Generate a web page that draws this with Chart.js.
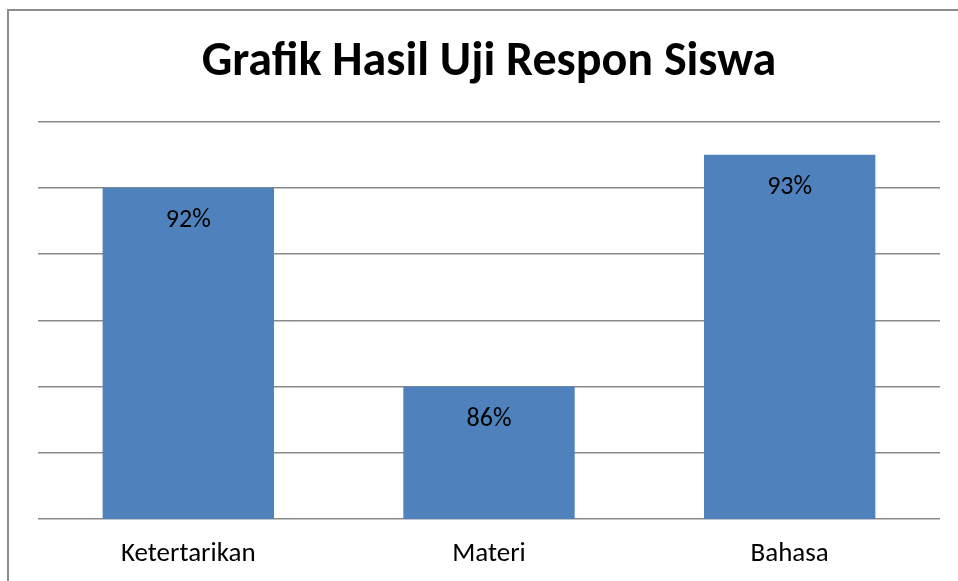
<!DOCTYPE html>
<html>
<head>
<meta charset="utf-8">
<script src="https://cdn.jsdelivr.net/npm/chart.js@4/dist/chart.umd.min.js"></script>
<style>
  body { margin: 0; background: #fff; overflow: hidden; }
  #frame { position: absolute; left: 7px; top: 9px; width: 1000px; height: 700px; border: 2px solid #8c8c8c; }
  #wrap { position: absolute; left: 0; top: 0; width: 958px; height: 581px; }
</style>
</head>
<body>
<div id="frame"></div>
<div id="wrap"><canvas id="myChart"></canvas></div>
<script>
const categories = ["Ketertarikan", "Materi", "Bahasa"];
const values = [92, 86, 93];
const valueLabels = ["92%", "86%", "93%"];

const FONT = 'Carlito, Lato, "Open Sans", sans-serif';

// labels inside bars, near the top
const barLabels = {
    id: 'barLabels',
    afterDatasetsDraw(chart) {
        const ctx = chart.ctx;
        const meta = chart.getDatasetMeta(0);
        ctx.save();
        ctx.font = '26px ' + FONT;
        ctx.fillStyle = '#000';
        ctx.textAlign = 'center';
        ctx.textBaseline = 'middle';
        meta.data.forEach(function(bar, i) {
            ctx.fillText(valueLabels[i], bar.x, bar.y + 33);
        });
        ctx.restore();
    }
};

const CHART = document.getElementById("myChart");
var myChart = new Chart(CHART, {
    type: 'bar',
    data: {
        labels: categories,
        datasets: [{
            data: values,
            backgroundColor: "#4F81BD",
            barPercentage: 0.57,
            categoryPercentage: 1
        }]
    },
    options: {
        responsive: true,
        maintainAspectRatio: false,
        animation: false,
        layout: { padding: { left: 38, right: 18, top: 0, bottom: 16 } },
        plugins: {
            legend: { display: false },
            tooltip: { enabled: false },
            title: {
                display: true,
                text: "Grafik Hasil Uji Respon Siswa",
                color: '#000',
                font: { family: FONT, size: 48, weight: 'bold', lineHeight: 1.2 },
                padding: { top: 34, bottom: 30 }
            }
        },
        scales: {
            x: {
                grid: { display: false, drawTicks: false },
                border: { display: false },
                ticks: { color: '#000', font: { family: FONT, size: 27 }, padding: 19 },
                afterFit: function(scale) { scale.height = 46; }
            },
            y: {
                min: 82,
                max: 94,
                ticks: { stepSize: 2, display: false },
                border: { display: false },
                grid: { color: '#8a8a8a', lineWidth: 1.5, drawTicks: false }
            }
        }
    },
    plugins: [barLabels]
});
</script>
</body>
</html>
